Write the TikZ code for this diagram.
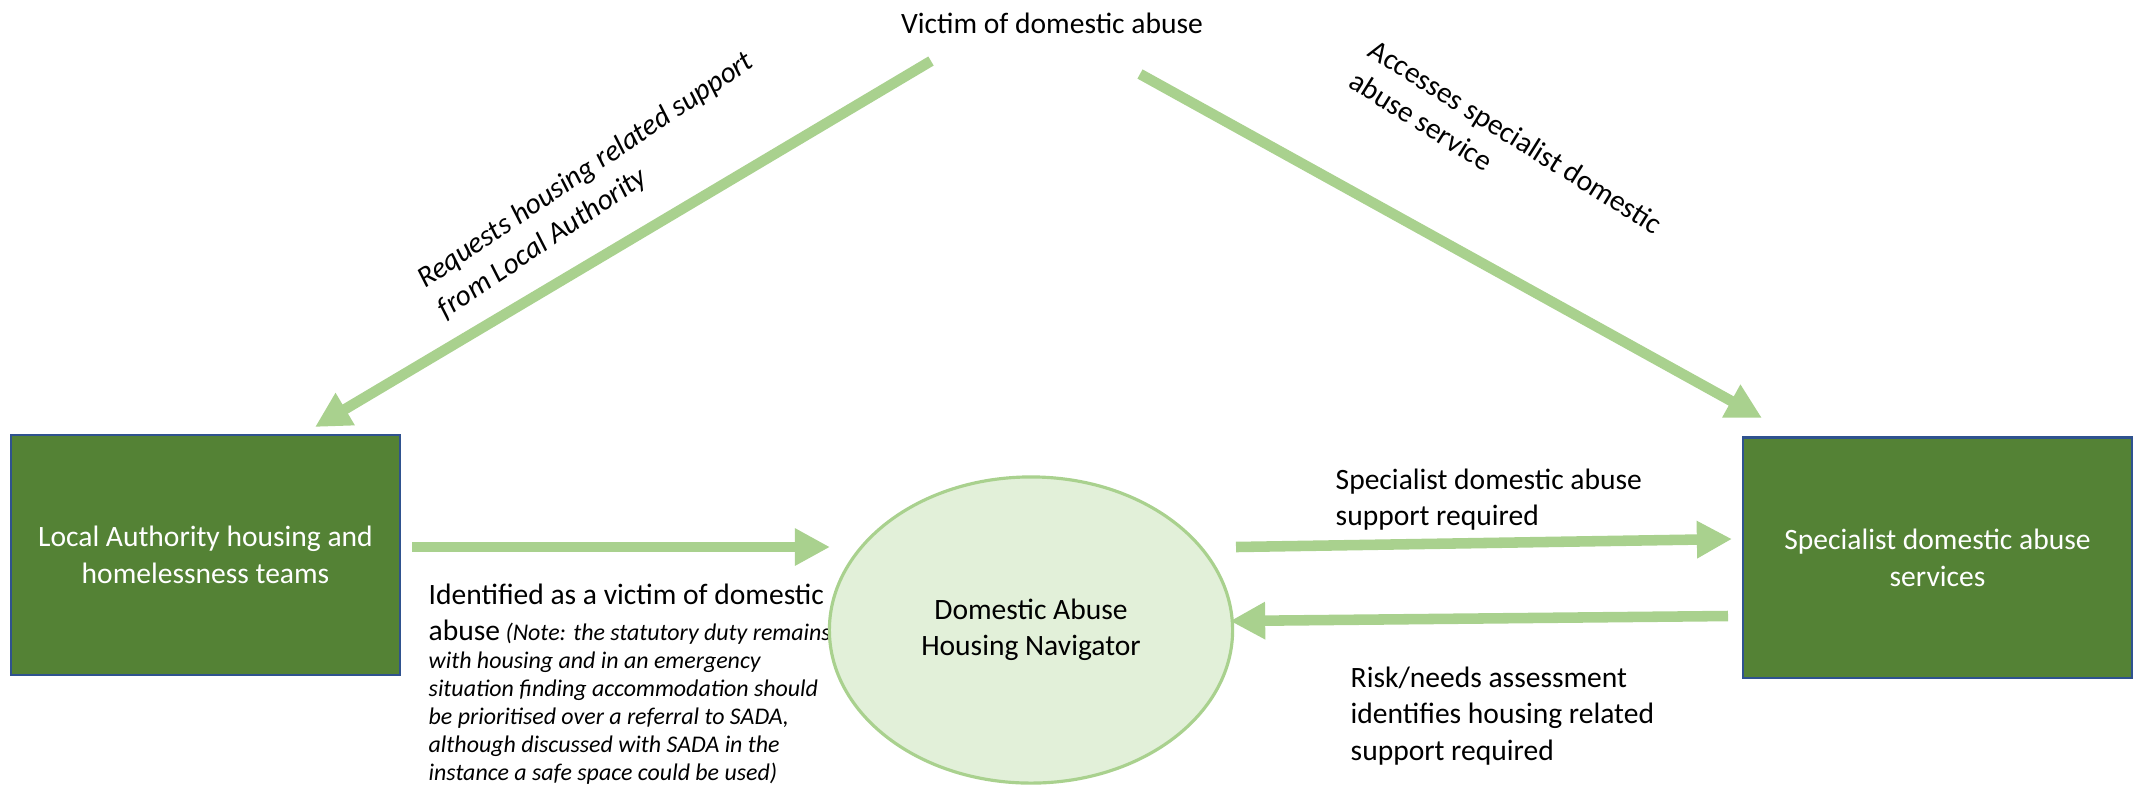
\documentclass[tikz,border=0pt]{standalone}
\usepackage{fontspec}
\setmainfont{Carlito}
\usepackage{tikz}
\usetikzlibrary{shapes.geometric}
\usetikzlibrary{arrows.meta}
\usepackage{xcolor}
\definecolor{boxgreen}{HTML}{548235}
\definecolor{boxline}{HTML}{2F528F}
\definecolor{arrowgreen}{HTML}{A9D18E}
\definecolor{navfill}{HTML}{E2F0D9}

\begin{document}
\begin{tikzpicture}[x=0.01cm, y=-0.01cm]
        % ================= styles =================
        \tikzset{
            % green service boxes
            service/.style={rectangle, draw=boxline, line width=0.6pt, fill=boxgreen, text=white, align=center, font=\fontsize{8.4}{10.5}\selectfont, minimum width=3.88cm, minimum height=2.4cm, inner sep=0pt},
            % navigator ellipse
            navigator/.style={ellipse, draw=arrowgreen, line width=0.9pt, fill=navfill, align=center, font=\fontsize{8.4}{10.3}\selectfont, minimum width=4.03cm, minimum height=3.06cm, inner sep=0pt},
            % plain text beside the arrows
            flowtext/.style={inner sep=0pt, font=\fontsize{8.4}{10.4}\selectfont},
            % thick green arrows
            flow/.style={line width=3pt, arrowgreen, -{Triangle[width=10pt, length=10pt]}}
        }

        \useasboundingbox (0,0) rectangle (2133,793);

        % ================= 1. boxes and top text =================
        \node[service] (la) at (205.5,555) {Local Authority housing and\\homelessness teams};
        \node[service] (sdas) at (1937.5,557.5) {Specialist domestic abuse\\services};
        \node[flowtext] (victim) at (1052,23) {Victim of domestic abuse};

        % ================= 2. arrow labels =================
        \node[flowtext, align=left, rotate=34, font=\fontsize{8.4}{10.4}\selectfont\itshape] (req) at (596,186) {Requests housing related support\\from Local Authority};
        \node[flowtext, align=left, rotate=-32] (acc) at (1506,152) {Accesses specialist domestic\\abuse service};
        \node[flowtext, align=left, anchor=north west] (need) at (1335,468) {Specialist domestic abuse\\support required};
        \node[flowtext, align=left, anchor=north west] (risk) at (1350,666) {Risk/needs assessment\\identifies housing related\\support required};
        \node[flowtext, align=left, anchor=north west, font=\fontsize{6.8}{7.95}\selectfont\itshape] (ident) at (428,583)
            {{\upshape\fontsize{8.4}{10.4}\selectfont Identified as a victim of domestic}\\[2.4pt]
             {\upshape\fontsize{8.4}{10.4}\selectfont abuse} (Note: the statutory duty remains\\
             with housing and in an emergency\\
             situation finding accommodation should\\
             be prioritised over a referral to SADA,\\
             although discussed with SADA in the\\
             instance a safe space could be used)};

        % ================= 3. navigator (drawn over the note) =================
        \node[navigator] (nav) at (1031,630) {Domestic Abuse\\Housing Navigator};

        % ================= 4. arrows =================
        \coordinate (vl) at (931,61);
        \coordinate (vr) at (1140,74);
        \coordinate (lain) at (315,427);
        \coordinate (sdasin) at (1762,418);
        \coordinate (laout) at (412,547);
        \coordinate (navin) at (830,547);
        \coordinate (navout) at (1236,547);
        \coordinate (sdasin2) at (1732,539);
        \coordinate (sdasout) at (1728,616);
        \coordinate (navin2) at (1230,621);

        \draw[flow] (vl) -- (lain);
        \draw[flow] (vr) -- (sdasin);
        \draw[flow] (laout) -- (navin);
        \draw[flow] (navout) -- (sdasin2);
        \draw[flow] (sdasout) -- (navin2);

    \end{tikzpicture}
\end{document}
